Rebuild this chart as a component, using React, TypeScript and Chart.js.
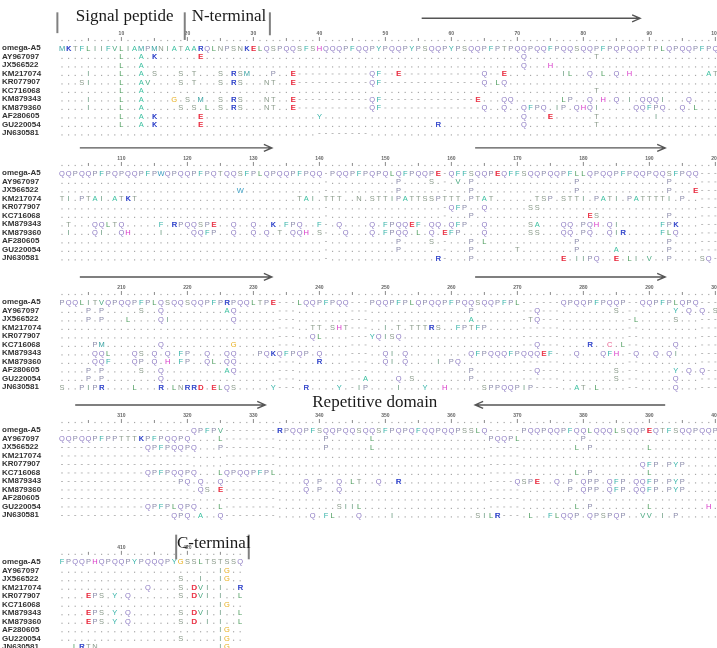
import React, { useEffect, useRef } from "react";
import { Chart, registerables } from "chart.js";

Chart.register(...registerables);

// ---------------- data ----------------
const accessions = [
  "omega-A5", "AY967097", "JX566522", "KM217074", "KR077907", "KC716068",
  "KM879343", "KM879360", "AF280605", "GU220054", "JN630581",
];

const blockStarts = [1, 101, 201, 301, 401];
const blockLengths = [100, 100, 100, 100, 28];

const referenceBlock1 =
  "MKTFLIIFVLIAMPMNIATAARQLNPSNKELQSPQQSFSHQQQPF" +
  "QQPYPQQPYPSQQPYPSQQPFPTPQQPQQFPQQSQQPFPQPQQPTPLQPQQPFPQ";
const referenceBlock2 =
  "QQPQQPFPQPQQPFPWQPQQPFPQTQQSFPLQPQQPFPQQ-PQQP" +
  "FPQPQLQFPQQPE-QFFSQQPEQFFSQQPQQPFLLQPQQPFPQQPQQSFPQQ---";
const referenceBlock3 =
  "PQQLITVQPQQPFPLQSQQSQQPFPRPQQLTPE---LQQPFPQQ-" +
  "--PQQPFPLQPQQPFPQQSQQPFPL------QPQQPFPQQP--QQPFPLQPQ---";
const referenceBlock4 =
  "--------------------QPFPV--------RPQQPFSQQPQQ" +
  "SQQSFPQPQFQQPQQPSSLQ-----PQQPQQPFQQLQQQLSQQPEQTFSQQPQQP";
const referenceBlock5 = "FPQQPHQPQQPYPQQQPYGSSLTSTSSQ";

type Edit = [number, string];

// differences from omega-A5 (absolute alignment position, residues)
const variantsBlock1: Edit[][] = [
  [[10, "L"], [13, "A"], [15, "K"], [22, "E"], [71, "Q"], [82, "T"]],
  [[10, "L"], [13, "A"], [71, "Q"], [75, "H"]],
  [[5, "I"], [10, "L"], [13, "A"], [15, "S"], [19, "S"], [21, "T"], [25, "S"], [27, "RSM"], [33, "P"], [36, "E"], [37, "-----------QF--E"], [53, "------------Q--E"], [77, "IL"], [81, "Q"], [83, "L"], [85, "Q"], [87, "H"], [99, "AT"]],
  [[4, "SI"], [10, "L"], [13, "AV"], [19, "S"], [21, "T"], [25, "S"], [27, "RS"], [32, "NT"], [36, "E"], [37, "-----------QF"], [50, "---------------Q.LQ"]],
  [[10, "L"], [13, "A"], [82, "T"]],
  [[5, "I"], [10, "L"], [13, "A"], [18, "G"], [20, "S"], [22, "M"], [25, "S"], [27, "RS"], [32, "NT"], [36, "E"], [37, "-----------QF"], [50, "--------------E"], [68, "QQ"], [77, "LP"], [81, "Q"], [83, "H"], [85, "Q"], [87, "I"], [89, "QQQI"], [96, "Q"]],
  [[5, "I"], [10, "L"], [13, "A"], [19, "S"], [21, "S"], [23, "L"], [25, "S"], [27, "RS"], [32, "NT"], [36, "E"], [37, "-----------QF"], [50, "---------------Q"], [68, "Q"], [71, "QFPQ"], [76, "IP"], [79, "QHQI"], [88, "QQFPQ"], [95, "Q"], [97, "L"]],
  [[10, "L"], [13, "A"], [15, "K"], [22, "E"], [40, "Y"], [71, "Q"], [75, "E"], [82, "T"], [91, "I"]],
  [[10, "L"], [13, "A"], [15, "K"], [22, "E"], [58, "R"], [71, "Q"], [82, "T"]],
  [[40, "--------"]],
];

const variantsBlock2: Edit[][] = [
  [[152, "P"], [157, "S"], [161, "V"], [163, "P"], [179, "P"], [193, "P"]],
  [[128, "W"], [152, "P"], [163, "P"], [179, "P"], [193, "P"], [197, "E"]],
  [[101, "TI.PTAI.ATKT"], [137, "TAI.TTT"], [146, "N.STTIPATTSSPTTT.PTAT"], [173, "TSP.STTI.PATI.PATTTTI.P"]],
  [[160, "QFP..Q"], [172, "SS"]],
  [[163, "P"], [181, "ES"], [193, "P"]],
  [[102, "T"], [106, "QQLTQ"], [116, "F"], [118, "RPQQSPE"], [127, "Q"], [130, "Q"], [133, "K"], [135, "FPQ"], [140, "F"], [143, "Q"], [148, "Q.FPQQEF.QQ.QFP"], [165, "Q"], [172, "SA"], [177, "QQ.PQH.QI"], [192, "FPK"]],
  [[102, "I"], [106, "QI"], [110, "QH"], [116, "I"], [121, "QQFP"], [127, "Q"], [130, "Q"], [132, "Q"], [134, "T"], [136, "QQH"], [140, "S"], [144, "Q"], [148, "Q.FPQQ.L.Q.EFP"], [165, "Q"], [172, "SS"], [177, "QQ.PQ..QIR"], [192, "FLQ"]],
  [[152, "P"], [157, "S"], [163, "P"], [165, "L"], [179, "P"], [193, "P"]],
  [[152, "P"], [163, "P"], [170, "T"], [179, "P"], [185, "A"], [193, "P"]],
  [[158, "R"], [163, "P"], [177, "E.IIPQ"], [185, "E.LI.V"], [193, "P"], [198, "SQ"]],
];

const variantsBlock3: Edit[][] = [
  [[205, "P.P"], [213, "S"], [216, "Q"], [226, "AQ"], [263, "P"], [273, "Q"], [285, "S"], [294, "Y.Q.Q.S"]],
  [[205, "P.P"], [211, "L"], [216, "QI"], [227, "Q"], [263, "A"], [272, "TQ"], [288, "L"], [294, "S"]],
  [[239, "TT.SHT"], [250, "I.T.TTTRS..FPTFP"]],
  [[239, "QL"], [248, "YQISQ"]],
  [[206, "PM"], [216, "Q"], [227, "G"], [273, "Q"], [281, "R"], [284, "C.L"], [294, "Q"]],
  [[206, "QQL"], [212, "QS.Q.Q.FP"], [223, "Q"], [226, "QQ"], [231, "PQKQFPQP"], [240, "Q"], [250, "QI.Q"], [263, "QFPQQQFPQQQEF"], [279, "Q"], [283, "QFH"], [288, "Q"], [291, "Q.QI"]],
  [[206, "QQF"], [212, "QP.Q.H.FP"], [223, "QL"], [226, "QQ"], [240, "R"], [250, "QI.Q"], [258, "I"], [260, "PQ"]],
  [[205, "P.P"], [213, "S"], [216, "Q"], [226, "AQ"], [263, "P"], [273, "Q"], [285, "S"], [294, "Y.Q.Q"]],
  [[205, "P.P"], [216, "Q"], [247, "A"], [252, "Q.S"], [263, "P"], [285, "S"], [294, "Q"]],
  [[201, "S"], [204, "PIPR"], [212, "L"], [216, "R.LNRRD.ELQS"], [233, "Y"], [238, "R"], [243, "Y"], [246, "IP"], [252, "I"], [256, "Y"], [259, "H"], [265, "SPPQQPIP"], [279, "AT.L"], [294, "Q"]],
];

const variantsBlock4: Edit[][] = [
  [[301, "QQPQQPFPPTTTKPFPQQPQ"], [325, "L"], [341, "P"], [348, "L"], [366, "PQQPL"], [380, "P"]],
  [[314, "QPFPQQPQ"], [325, "P"], [341, "P"], [348, "L"], [379, "L.P"], [390, "L"]],
  [],
  [[389, "QFP.PYP"]],
  [[314, "QPFPQQPQ"], [325, "LQPQQPFPL"], [379, "L.P"], [390, "L"]],
  [[319, "PQ.Q"], [325, "Q"], [338, "Q.P..Q.L"], [346, "T..Q..R"], [370, "QSPE..Q.P.QPP.QFP.QQFP.PYP"]],
  [[322, "QS.E"], [338, "Q.P..Q"], [378, "P.QPP.QFP.QQFP.PYP"]],
  [],
  [[314, "QPFPLQPQ"], [325, "L"], [343, "SII"], [346, "L"], [379, "L.P"], [390, "L"], [399, "H"]],
  [[318, "QPQ.A"], [325, "Q"], [339, "Q.FL"], [346, "Q"], [351, "I"], [364, "SILR"], [372, "L"], [375, "FLQQP.QPSPQP"], [389, "VV.I.P"]],
];

const variantsBlock5: Edit[][] = [
  [[425, "IG"]],
  [[419, "S"], [422, "I"], [425, "IG"]],
  [[414, "Q"], [419, "S.DVI.I..R"]],
  [[405, "EPS.Y.Q"], [419, "S.DVI.I..L"]],
  [[425, "IG"]],
  [[405, "EPS.Y.Q"], [419, "S.DVI.I..L"]],
  [[405, "EPS.Y.Q"], [419, "S.D.I.I..L"]],
  [[425, "IG"]],
  [[419, "S"], [425, "IG"]],
  [[403, "LRTN"], [425, "IG"]],
];

const referenceBlocks = [referenceBlock1, referenceBlock2, referenceBlock3, referenceBlock4, referenceBlock5];
const variantBlocks = [variantsBlock1, variantsBlock2, variantsBlock3, variantsBlock4, variantsBlock5];
const tickStep = 10;

// ---------------- layout / style ----------------
const CANVAS_W = 717;
const CANVAS_H = 648;
const LINE_PX = 8.5;
const blockTopLines = [5.65, 20.35, 35.53, 50.59, 66.1];

const arrowMarks = [
  { block: 0, from: 55.5, to: 88.6, dy: -3.5 },
  { block: 1, from: 3.7, to: 32.8, dy: -2.95 },
  { block: 1, from: 63.6, to: 92.4, dy: -2.95 },
  { block: 2, from: 3.7, to: 32.8, dy: -2.95 },
  { block: 2, from: 63.6, to: 92.4, dy: -2.95 },
  { block: 3, from: 3.0, to: 31.8, dy: -2.95 },
  { block: 3, from: 92.4, to: 63.6, dy: -2.95 },
];
const textMarks = [
  { block: 0, text: "Signal peptide", col: 10.5, dy: -3.65 },
  { block: 0, text: "N-terminal", col: 26.3, dy: -3.65 },
  { block: 3, text: "Repetitive domain", col: 48.4, dy: -3.2 },
  { block: 4, text: "C-terminal", col: 24.0, dy: -2.1 },
];
const barMarks = [
  { block: 0, col: 0.3, dy1: -4.2, dy2: -1.75 },
  { block: 0, col: 19.6, dy1: -4.2, dy2: -0.95 },
  { block: 0, col: 32.5, dy1: -4.2, dy2: -1.5 },
  { block: 4, col: 18.3, dy1: -3.2, dy2: -0.3 },
  { block: 4, col: 29.3, dy1: -3.2, dy2: -0.3 },
];

const residueColors: Record<string, string> = {
  Q: "#8e7cc3", P: "#8a8aaa", S: "#8a9a8a", T: "#8a9a8a", N: "#8a9a8a",
  F: "#35b3a8", Y: "#35b3a8", W: "#3a9cc0",
  L: "#4a9a5a", I: "#6a9a80", V: "#4aa880", M: "#35a0a0", A: "#3cc0a0",
  K: "#2b3fc8", R: "#2b3fc8", E: "#e8283c", D: "#e8283c",
  H: "#d838c8", G: "#e8b020", C: "#e86090",
};
const DOT_COLOR = "#a8a8a8";

function normalize(s: string, len: number) {
  let r = s.slice(0, len);
  while (r.length < len) r += "-";
  return r;
}

function buildRow(ref: string, start: number, edits: Edit[]) {
  const arr = ref.split("").map((ch) => (ch === "-" ? "-" : "."));
  for (const [pos, s] of edits) {
    for (let i = 0; i < s.length; i++) {
      const k = pos - start + i;
      if (k >= 0 && k < arr.length) arr[k] = s[i];
    }
  }
  return arr.join("");
}

const alignmentPlugin = {
  id: "alignment",
  beforeDraw(chart: any) {
    const { ctx } = chart;
    ctx.save();
    ctx.fillStyle = "#ffffff";
    ctx.fillRect(0, 0, chart.width, chart.height);
    ctx.restore();
  },
  afterDraw(chart: any) {
    const { ctx } = chart;
    const xs = chart.scales.x;
    const ys = chart.scales.y;
    ctx.save();
    referenceBlocks.forEach((refRaw, b) => {
      const len = blockLengths[b];
      const start = blockStarts[b];
      const ref = normalize(refRaw, len);
      const top = blockTopLines[b];
      const rows = [ref, ...variantBlocks[b].map((e) => buildRow(ref, start, e))];

      // ruler
      const rulerY = ys.getPixelForValue(top - 1.0);
      const labelY = ys.getPixelForValue(top - 1.7);
      for (let c = 1; c <= len; c++) {
        const pos = start + c - 1;
        const px = xs.getPixelForValue(c);
        ctx.fillStyle = "#8a8a8a";
        if (pos % tickStep === 0) {
          ctx.fillRect(px - 0.5, rulerY - 2.5, 1, 4);
          ctx.font = "bold 5px 'Liberation Sans', Arial, sans-serif";
          ctx.textAlign = "center";
          ctx.textBaseline = "middle";
          ctx.fillStyle = "#666";
          ctx.fillText(String(pos), px, labelY);
        } else if (pos % 5 === 0) {
          ctx.fillRect(px - 0.5, rulerY - 1.5, 1, 3);
        } else {
          ctx.fillStyle = DOT_COLOR;
          ctx.fillRect(px - 0.6, rulerY + 0.4, 1.2, 1.2);
        }
      }

      rows.forEach((row, r) => {
        const py = ys.getPixelForValue(top + r);
        ctx.font = "bold 8px 'Liberation Sans', Arial, sans-serif";
        ctx.textAlign = "left";
        ctx.textBaseline = "middle";
        ctx.fillStyle = "#333";
        ctx.fillText(accessions[r], 2, py);
        ctx.font = "7.5px 'Liberation Sans', Arial, sans-serif";
        ctx.textAlign = "center";
        for (let c = 1; c <= row.length; c++) {
          const ch = row[c - 1];
          const px = xs.getPixelForValue(c);
          if (ch === ".") {
            ctx.fillStyle = DOT_COLOR;
            ctx.fillRect(px - 0.6, py + 1.3, 1.2, 1.2);
          } else if (ch === "-") {
            ctx.fillStyle = "#b4b4b4";
            ctx.fillRect(px - 1, py, 2, 0.9);
          } else {
            const col = residueColors[ch] || "#888";
            ctx.fillStyle = col;
            ctx.fillText(ch, px, py + 0.5);
            if (ch === "K" || ch === "R" || ch === "E" || ch === "D") {
              ctx.fillText(ch, px + 0.4, py + 0.5);
            }
          }
        }
      });
    });

    // arrows
    ctx.strokeStyle = "#555";
    ctx.lineWidth = 1.4;
    arrowMarks.forEach((a) => {
      const py = ys.getPixelForValue(blockTopLines[a.block] + a.dy);
      const x1 = xs.getPixelForValue(a.from);
      const x2 = xs.getPixelForValue(a.to);
      const dir = x2 > x1 ? 1 : -1;
      ctx.beginPath();
      ctx.moveTo(x1, py);
      ctx.lineTo(x2, py);
      ctx.moveTo(x2 - dir * 8, py - 3.5);
      ctx.lineTo(x2, py);
      ctx.lineTo(x2 - dir * 8, py + 3.5);
      ctx.stroke();
    });

    // bars
    ctx.strokeStyle = "#808080";
    ctx.lineWidth = 2;
    barMarks.forEach((m) => {
      const px = xs.getPixelForValue(m.col);
      ctx.beginPath();
      ctx.moveTo(px, ys.getPixelForValue(blockTopLines[m.block] + m.dy1));
      ctx.lineTo(px, ys.getPixelForValue(blockTopLines[m.block] + m.dy2));
      ctx.stroke();
    });

    // region labels
    ctx.font = "17px 'Liberation Serif', 'Times New Roman', serif";
    ctx.textAlign = "center";
    ctx.textBaseline = "middle";
    ctx.fillStyle = "#1a1a1a";
    textMarks.forEach((t) => {
      ctx.fillText(t.text, xs.getPixelForValue(t.col), ys.getPixelForValue(blockTopLines[t.block] + t.dy));
    });
    ctx.restore();
  },
};

export default function App() {
  const ref = useRef<HTMLCanvasElement | null>(null);
  useEffect(() => {
    if (!ref.current) return;
    const chart = new Chart(ref.current, {
      type: "scatter",
      data: { datasets: [{ data: [], pointRadius: 0 }] },
      options: {
        responsive: false,
        animation: false,
        devicePixelRatio: 1,
        layout: { padding: { left: 58.7, right: 0, top: 0, bottom: 0 } },
        plugins: { legend: { display: false }, tooltip: { enabled: false } },
        scales: {
          x: { type: "linear", min: 0.5, max: 100.25, display: false },
          y: { type: "linear", min: 0, max: CANVAS_H / LINE_PX, reverse: true, display: false },
        },
      },
      plugins: [alignmentPlugin],
    });
    return () => chart.destroy();
  }, []);
  return (
    <div style={{ position: "fixed", left: 0, top: 0, width: CANVAS_W, height: CANVAS_H, background: "#fff" }}>
      <canvas ref={ref} width={CANVAS_W} height={CANVAS_H} style={{ width: CANVAS_W, height: CANVAS_H, display: "block" }} />
    </div>
  );
}
